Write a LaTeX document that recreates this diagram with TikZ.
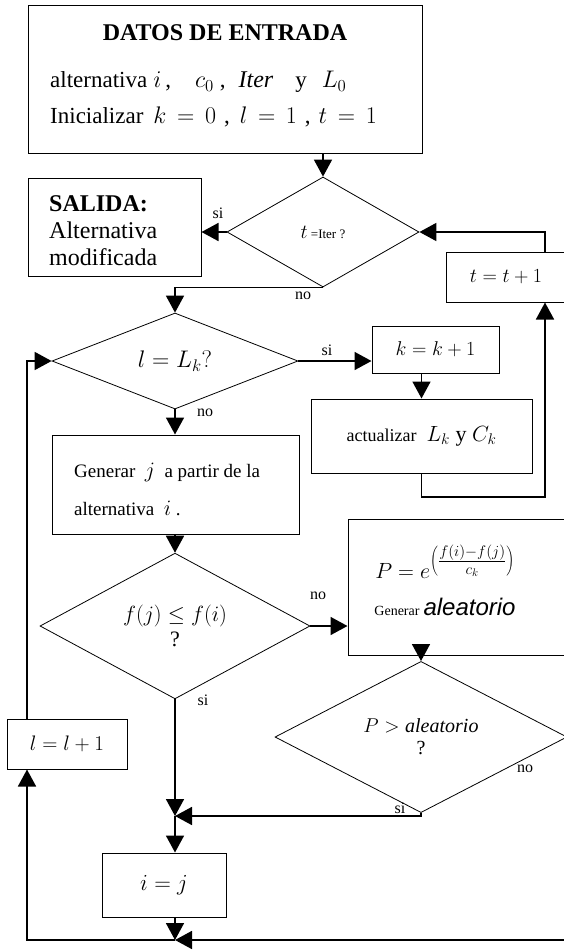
\RequirePackage{fix-cm}
\documentclass[tikz,border=0pt]{standalone}
\usepackage{fontspec}
\setmainfont{Liberation Serif}
\newfontfamily\sinserif{Liberation Sans}
\usetikzlibrary{shapes.geometric,arrows.meta}

\begin{document}
\begin{tikzpicture}[x=1pt,y=-1pt,
    font=\fontsize{19}{22}\selectfont,
    caja/.style={draw, line width=1pt, inner sep=0pt},
    rombo/.style={draw, diamond, line width=0.8pt, inner sep=0pt},
    texto/.style={inner sep=0pt},
    flecha/.style={line width=1.7pt, -{Triangle[length=17pt,width=18pt]}},
    etiq/.style={inner sep=0pt, font=\fontsize{16}{16}\selectfont}]

  \useasboundingbox (0,0) rectangle (564,951);

  % datos de entrada
  \node[caja, minimum width=394, minimum height=148] (entrada) at (225,79) {};
  \node[texto, font=\fontsize{24}{24}\selectfont\bfseries] (titulo) at (225,33) {DATOS DE ENTRADA};
  \node[texto, anchor=west, font=\fontsize{23}{23}\selectfont] (datos) at (50,82)
    {alternativa\hspace{6pt}{\fontsize{24}{24}\selectfont$i$}\hspace{4pt},\hspace{24pt}{\fontsize{24}{24}\selectfont$c_0$}\hspace{6pt},\hspace{13pt}{\fontsize{24}{24}\selectfont$\mathit{Iter}$}\hspace{22pt}y\hspace{15pt}{\fontsize{24}{24}\selectfont$L_0$}};
  \node[texto, anchor=west, font=\fontsize{23}{23}\selectfont] (inicio) at (50,117)
    {\thickmuskip=8mu Inicializar\hspace{10pt}{\fontsize{24}{24}\selectfont$k = 0$}\hspace{8pt},\hspace{10pt}{\fontsize{24}{24}\selectfont$l = 1$}\hspace{8pt},\hspace{8pt}{\fontsize{24}{24}\selectfont$t = 1$}};

  % condicion de parada
  \node[rombo, minimum width=192, minimum height=110] (iter) at (323,232) {{\fontsize{20}{20}\selectfont$t$}\,{\fontsize{13}{13}\selectfont=Iter ?}};
  \node[caja, minimum width=173, minimum height=98] (salida) at (114.5,227) {};
  \node[texto, anchor=west, align=left, font=\fontsize{24}{27}\selectfont] (saltxt) at (49,231) {\textbf{SALIDA:}\\Alternativa\\modificada};

  \draw[flecha] (entrada.south -| iter.north) -- (iter.north);
  \draw[flecha] (iter.west) -- (iter.west -| salida.east);
  \node[etiq] at (218,213) {si};

  % bucle interno
  \node[rombo, minimum width=246, minimum height=96, font=\fontsize{24}{24}\selectfont] (lk) at (175,361) {$l = L_k?$};
  \draw[flecha] (iter.south) -| (lk.north);
  \node[etiq] at (303,296) {no};

  \node[caja, minimum width=127, minimum height=47, font=\fontsize{20}{20}\selectfont] (kmas) at (435.5,349.5) {$k = k+1$};
  \draw[flecha] (lk.east) -- (lk.east -| kmas.west);
  \node[etiq] at (327,350) {si};

  \node[caja, minimum width=221, minimum height=74] (act) at (421.5,436) {{\fontsize{18}{18}\selectfont actualizar}\hspace{10pt}{\fontsize{22}{22}\selectfont$L_k$ y $C_k$}};
  \draw[flecha] (act.north |- kmas.south) -- (act.north);

  \node[caja, minimum width=120, minimum height=50, font=\fontsize{20}{20}\selectfont] (tmas) at (506,277) {$t = t+1$};
  \coordinate (der) at (545,497);
  \draw[flecha] (act.south) |- (der) -- (der |- tmas.south);
  \draw[flecha] (tmas.north -| der) |- (iter.east);

  % generar vecino
  \node[caja, minimum width=247, minimum height=99] (gen) at (175.5,484.5) {};
  \node[texto, anchor=west, align=left, font=\fontsize{19}{38}\selectfont] (gentxt) at (74,489) {Generar \ {\fontsize{22}{22}\selectfont$j$} \ a partir de la\\alternativa \ {\fontsize{22}{22}\selectfont$i$} .};
  \draw[flecha] (lk.south) -- (lk.south |- gen.north);
  \node[etiq] at (205,413) {no};

  \node[rombo, minimum width=270, minimum height=136, align=center, font=\fontsize{22}{25}\selectfont] (comp) at (175,626) {$f(j) \le f(i)$\\?};
  \draw[flecha] (gen.south -| comp.north) -- (comp.north);

  % probabilidad de aceptacion
  \node[caja, minimum width=218, minimum height=136] (prob) at (457,587) {};
  \node[texto, font=\fontsize{22}{22}\selectfont] (formula) at (445,562) {$P = e^{\textstyle\left(\frac{f(i)-f(j)}{c_k}\right)}$};
  \node[texto] (genal) at (445,607) {{\fontsize{14}{14}\selectfont Generar}\hspace{4pt}{\fontsize{24}{24}\sinserif\itshape aleatorio}};
  \draw[flecha] (comp.east) -- (comp.east -| prob.west);
  \node[etiq] at (318,596) {no};

  \node[rombo, minimum width=292, minimum height=111, align=center, font=\fontsize{20}{22}\selectfont] (pal) at (421,737) {$P > \mathit{aleatorio}$\\?};
  \draw[flecha] (pal.north |- prob.south) -- (pal.north);
  \node[etiq] at (525,769) {no};
  \node[etiq] at (400,808) {si};

  % aceptar y cerrar bucle
  \coordinate (j1) at (175,816);
  \coordinate (j2) at (175,940);
  \coordinate (izq) at (27,940);
  \node[caja, minimum width=124, minimum height=64, font=\fontsize{23}{23}\selectfont] (igual) at (164,885) {$i = j$};
  \node[caja, minimum width=120, minimum height=50, font=\fontsize{21}{21}\selectfont] (lmas) at (67,744) {$l = l+1$};

  \draw[flecha] (comp.south) -- (j1);
  \node[etiq] at (203,700) {si};
  \draw[flecha] (pal.south) |- (j1);
  \draw[flecha] (j1) -- (j1 |- igual.north);
  \draw[flecha] (igual.south -| j2) -- (j2);
  \draw[flecha] (pal.east) -- ++(20,0) |- (j2);
  \draw[flecha] (j2) -- (izq) -- (izq |- lmas.south);
  \draw[flecha] (lmas.north -| izq) -- (izq |- lk.west) -- (lk.west);

\end{tikzpicture}
\end{document}
